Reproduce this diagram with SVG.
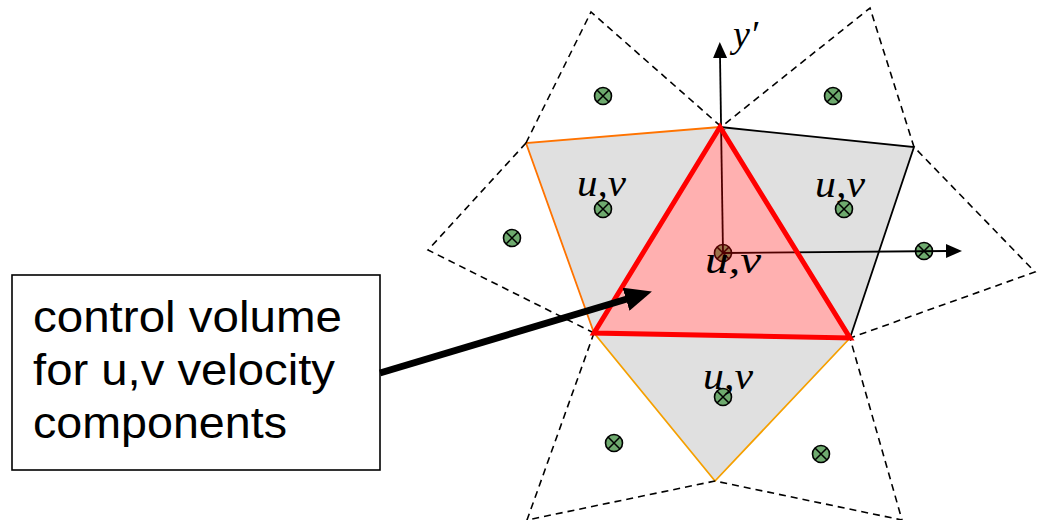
<svg xmlns="http://www.w3.org/2000/svg" width="1039" height="520" viewBox="0 0 1039 520">
<defs>
<style>
.gray{fill:#e0e0e0;stroke:none}
.dash{fill:none;stroke:#000;stroke-width:1.6;stroke-dasharray:7 5}
.org{fill:none;stroke:#ff7300;stroke-width:1.8}
.amb{fill:none;stroke:#f5a000;stroke-width:1.8}
.blk{fill:none;stroke:#000;stroke-width:1.8}
.axis{fill:none;stroke:#000;stroke-width:1.8}
.lbl{font-family:"Liberation Serif",serif;font-style:italic;font-size:38px;fill:#000}
.box{font-family:"Liberation Sans",Arial,sans-serif;font-size:44px;fill:#000}
</style>
<g id="mk">
<circle r="8.5" fill="#6eaa6e" stroke="#000" stroke-width="1.6"/>
<path d="M-6,-6L6,6M-6,6L6,-6" stroke="#000" stroke-width="1.5"/>
</g>
<marker id="ah" markerUnits="userSpaceOnUse" markerWidth="16" markerHeight="14" refX="2" refY="7" orient="auto">
<path d="M0,0L16,7L0,14z" fill="#000"/>
</marker>
<marker id="big" markerUnits="userSpaceOnUse" markerWidth="28" markerHeight="24" refX="1" refY="12" orient="auto">
<path d="M0,0L27,12L0,24z" fill="#000"/>
</marker>
</defs>
<rect width="1039" height="520" fill="#fff"/>

<g id="cell-left">
<polygon class="gray" points="526,143 720,127 594,333"/>
<polyline class="org" points="720,127 526,143 594,333"/>
</g>
<g id="cell-right">
<polygon class="gray" points="720,127 914,147 850,338"/>
<polyline class="blk" points="720,127 914,147 850,338"/>
</g>
<g id="cell-bottom">
<polygon class="gray" points="594,333 850,338 715,481"/>
<polyline class="amb" points="594,333 715,481 850,338"/>
</g>

<g id="dashed-cells">
<polyline class="dash" points="526,143 591,12 725,130"/>
<polyline class="dash" points="716,131 870,8 914,147 1035,272 850,338"/>
<polyline class="dash" points="526,143 428,250 594,333"/>
<polyline class="dash" points="594,333 527,520 715,481 902,520 850,338"/>
</g>

<g id="markers">
<use href="#mk" x="603" y="96"/>
<use href="#mk" x="833" y="96"/>
<use href="#mk" x="512" y="238"/>
<use href="#mk" x="603" y="209"/>
<use href="#mk" x="844" y="209"/>
<use href="#mk" x="924" y="251"/>
<use href="#mk" x="723" y="253"/>
<use href="#mk" x="723" y="397"/>
<use href="#mk" x="614" y="443"/>
<use href="#mk" x="821" y="454"/>
</g>

<g id="axes">
<line class="axis" x1="723" y1="253" x2="720" y2="56" marker-end="url(#ah)"/>
<line class="axis" x1="723" y1="253" x2="948" y2="251" marker-end="url(#ah)"/>
</g>
<text id="y-label" class="lbl" x="733" y="47" font-size="28">y′</text>

<g id="control-volume">
<polygon points="720,127 594,333 850,338" fill="#ff0000" fill-opacity="0.31" stroke="#ff0000" stroke-width="5" stroke-linejoin="miter"/>
</g>

<g id="labels">
<text class="lbl" x="577" y="196" textLength="49" lengthAdjust="spacingAndGlyphs">u,v</text>
<text class="lbl" x="815" y="197" textLength="50" lengthAdjust="spacingAndGlyphs">u,v</text>
<text class="lbl" x="705" y="273" font-size="40" textLength="56" lengthAdjust="spacingAndGlyphs">u,v</text>
<text class="lbl" x="703" y="389" textLength="50" lengthAdjust="spacingAndGlyphs">u,v</text>
</g>

<g id="textbox">
<rect x="12" y="275" width="368" height="195" fill="#fff" stroke="#000" stroke-width="1.6"/>
<text class="box" x="33" y="332" textLength="309" lengthAdjust="spacingAndGlyphs">control volume</text>
<text class="box" x="33" y="385" textLength="302" lengthAdjust="spacingAndGlyphs">for u,v velocity</text>
<text class="box" x="33" y="438" textLength="254" lengthAdjust="spacingAndGlyphs">components</text>
</g>

<g id="connectors">
<line x1="380" y1="373" x2="627" y2="299" stroke="#000" stroke-width="7" marker-end="url(#big)"/>
</g>
</svg>
